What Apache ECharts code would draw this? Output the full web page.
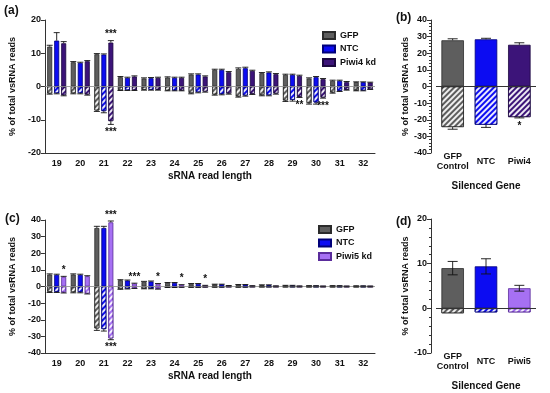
<!DOCTYPE html>
<html><head><meta charset="utf-8">
<script src="https://cdn.jsdelivr.net/npm/echarts@6/dist/echarts.min.js"></script>
<style>html,body{margin:0;padding:0;background:#fff}#c{width:550px;height:393px}</style>
</head><body><div id="c"></div>
<script>
// ---------- DATA ----------
const lengths = ['19','20','21','22','23','24','25','26','27','28','29','30','31','32'];
// panel (a)
const aGfpPos   = [12.0, 7.3, 9.7, 2.8, 2.4, 2.7, 3.6, 5.0, 5.3, 4.0, 3.5, 2.4, 1.7, 1.3];
const aNtcPos   = [13.8, 7.1, 9.6, 2.6, 2.5, 2.6, 3.6, 5.0, 5.5, 4.2, 3.5, 2.8, 1.7, 1.3];
const aPiwi4Pos = [13.0, 7.6, 13.2, 3.0, 2.6, 2.6, 3.0, 4.3, 4.7, 3.7, 3.2, 2.2, 1.3, 1.2];
const aGfpNeg   = [-2.1, -2.0, -7.2, -1.1, -1.0, -1.2, -2.0, -2.4, -3.0, -2.6, -4.2, -5.0, -1.8, -1.2];
const aNtcNeg   = [-2.0, -2.0, -7.4, -1.1, -1.0, -1.2, -1.7, -2.3, -2.7, -2.6, -4.0, -4.8, -1.3, -1.2];
const aPiwi4Neg = [-2.6, -2.4, -10.4, -1.1, -1.0, -1.2, -1.5, -2.1, -2.2, -2.1, -3.1, -3.3, -1.0, -0.8];
const aGfpPosErr   = [0.4, 0.2, 0.2, 0.2, 0.2, 0.2, 0.2, 0.2, 0.3, 0.2, 0.2, 0.2, 0.2, 0.1];
const aNtcPosErr   = [2.4, 0.2, 0.2, 0.2, 0.2, 0.2, 0.2, 0.2, 0.3, 0.2, 0.2, 0.2, 0.2, 0.1];
const aPiwi4PosErr = [0.5, 0.2, 0.6, 0.2, 0.2, 0.2, 0.2, 0.2, 0.2, 0.2, 0.2, 0.2, 0.2, 0.1];
const aGfpNegErr   = [0.2, 0.2, 0.3, 0.1, 0.1, 0.1, 0.2, 0.2, 0.2, 0.2, 0.3, 0.3, 0.2, 0.1];
const aNtcNegErr   = [0.2, 0.2, 0.5, 0.1, 0.1, 0.1, 0.2, 0.2, 0.2, 0.2, 0.4, 0.5, 0.2, 0.1];
const aPiwi4NegErr = [0.2, 0.2, 1.0, 0.1, 0.1, 0.1, 0.2, 0.2, 0.2, 0.2, 0.2, 0.2, 0.1, 0.1];
const aPiwi4PosStars = ['', '', '***', '', '', '', '', '', '', '', '', '', '', ''];
const aPiwi4NegStars = ['', '', '***', '', '', '', '', '', '', '', '**', '***', '', ''];
// panel (c)
const cGfpPos   = [7.2, 7.2, 35.2, 3.8, 2.8, 2.2, 1.6, 1.3, 1.1, 0.9, 0.6, 0.4, 0.4, 0.3];
const cNtcPos   = [7.0, 7.0, 35.2, 3.6, 3.0, 2.2, 1.6, 1.3, 1.1, 0.9, 0.6, 0.4, 0.4, 0.3];
const cPiwi5Pos = [5.8, 6.2, 38.6, 1.8, 1.6, 1.0, 0.6, 0.5, 0.4, 0.3, 0.25, 0.2, 0.2, 0.2];
const cGfpNeg   = [-3.2, -3.4, -25.2, -1.5, -1.2, -0.5, -0.4, -0.3, -0.3, -0.2, -0.2, -0.2, -0.2, -0.2];
const cNtcNeg   = [-3.2, -3.4, -25.6, -1.3, -1.2, -0.5, -0.4, -0.3, -0.3, -0.2, -0.2, -0.2, -0.2, -0.2];
const cPiwi5Neg = [-3.6, -4.2, -31.2, -1.0, -1.4, -0.4, -0.3, -0.2, -0.2, -0.2, -0.2, -0.2, -0.2, -0.2];
const cGfpPosErr   = [0.4, 0.4, 1.0, 0.3, 0.3, 0.2, 0.2, 0.1, 0.1, 0.1, 0.1, 0.1, 0.1, 0.1];
const cNtcPosErr   = [0.4, 0.4, 1.0, 0.3, 0.3, 0.2, 0.2, 0.1, 0.1, 0.1, 0.1, 0.1, 0.1, 0.1];
const cPiwi5PosErr = [0.3, 0.3, 0.8, 0.2, 0.2, 0.1, 0.1, 0.1, 0.1, 0.1, 0.1, 0.1, 0.1, 0.1];
const cGfpNegErr   = [0.4, 0.4, 1.2, 0.2, 0.2, 0.1, 0.1, 0.1, 0.1, 0.1, 0.1, 0.1, 0.1, 0.1];
const cNtcNegErr   = [0.4, 0.4, 1.2, 0.2, 0.2, 0.1, 0.1, 0.1, 0.1, 0.1, 0.1, 0.1, 0.1, 0.1];
const cPiwi5NegErr = [0.3, 0.3, 0.8, 0.2, 0.2, 0.1, 0.1, 0.1, 0.1, 0.1, 0.1, 0.1, 0.1, 0.1];
const cPiwi5PosStars = ['*', '', '***', '***', '*', '*', '*', '', '', '', '', '', '', ''];
const cPiwi5NegStars = ['', '', '***', '', '', '', '', '', '', '', '', '', '', ''];
// panel (b)
const bGenes  = ['GFP\nControl', 'NTC', 'Piwi4'];
const bPos    = [27.8, 28.4, 25.1];
const bPosErr = [0.9, 0.6, 1.2];
const bNeg    = [-24.4, -23.0, -18.4];
const bNegErr = [1.3, 1.6, 0.5];
const bNegStars = ['', '', '*'];
// panel (d)
const dGenes  = ['GFP\nControl', 'NTC', 'Piwi5'];
const dPos    = [9.0, 9.4, 4.5];
const dPosErr = [1.5, 1.7, 0.65];
const dNeg    = [-1.1, -0.9, -0.9];

// ---------- STYLE ----------
const FONT = 'Arial, "Liberation Sans", sans-serif';
const C = {
  gfp:   {fill: '#5e5e5e', border: '#2b2b2b'},
  ntc:   {fill: '#0c0cf2', border: '#00007a'},
  piwi4: {fill: '#3c1479', border: '#1c0840'},
  piwi5: {fill: '#a670f3', border: '#5a2c9c'}
};
const decal = {symbol: 'rect', symbolSize: 1, color: 'rgba(255,255,255,0.9)',
  dashArrayX: [1, 0], dashArrayY: [1.3, 1.7], rotation: -Math.PI / 4};

const BW = 5, GAP = 2;
const BW2 = 22.5;

function errSeries(ax, vals, errs, stars, idx, nG, bw, gap, both) {
  return {
    type: 'custom', xAxisIndex: ax, yAxisIndex: ax, z: 10, silent: true, clip: false,
    data: vals.map((v, i) => [i, v, errs[i]]),
    renderItem(params, api) {
      const i = api.value(0), v = api.value(1), e = api.value(2);
      const s = v >= 0 ? 1 : -1;
      const base = api.coord([i, v]);
      const x = base[0] + (idx - (nG - 1) / 2) * (bw + gap);
      const yTip = api.coord([i, v + s * e])[1];
      const cap = Math.min(bw / 2 + 0.5, 5);
      const ls = {stroke: '#111', lineWidth: 0.9};
      const ch = [];
      if (e > 0) {
        const yFrom = both ? api.coord([i, v - s * e])[1] : base[1];
        ch.push({type: 'line', shape: {x1: x, y1: yFrom, x2: x, y2: yTip}, style: ls});
        ch.push({type: 'line', shape: {x1: x - cap, y1: yTip, x2: x + cap, y2: yTip}, style: ls});
        if (both) ch.push({type: 'line', shape: {x1: x - cap, y1: yFrom, x2: x + cap, y2: yFrom}, style: ls});
      }
      const st = stars ? stars[params.dataIndex] : '';
      if (st) {
        ch.push({type: 'text', style: {text: st, x: x, y: s > 0 ? yTip - 1 : yTip + 3,
          align: 'center', verticalAlign: s > 0 ? 'bottom' : 'top',
          font: 'bold 10px ' + FONT, fill: '#111'}});
      }
      return {type: 'group', children: ch};
    }
  };
}

function barPair(ax, name, col, pos, neg, stack, bw, gapPct) {
  return [
    {type: 'bar', name: name, xAxisIndex: ax, yAxisIndex: ax, stack: stack, barWidth: bw, barGap: gapPct,
     data: pos, itemStyle: {color: col.fill, borderColor: col.border, borderWidth: 0.8}},
    {type: 'bar', name: name + ' (neg)', xAxisIndex: ax, yAxisIndex: ax, stack: stack, barWidth: bw, barGap: gapPct,
     data: neg, itemStyle: {color: col.fill, borderColor: col.border, borderWidth: 0.8, decal: decal}}
  ];
}

function zeroLine(ax, color, width) {
  return {type: 'line', xAxisIndex: ax, yAxisIndex: ax, data: [], silent: true,
    markLine: {silent: true, symbol: 'none', label: {show: false},
      lineStyle: {color: color, width: width, type: 'solid'}, data: [{yAxis: 0}]}};
}

const axisTxt = {color: '#111', fontFamily: FONT, fontWeight: 'bold', fontSize: 9};
const nameTxt = {color: '#111', fontFamily: FONT, fontWeight: 'bold', fontSize: 10};
const lineS = {color: '#333', width: 1};

function xCat(gi, data, name, gap) {
  return {type: 'category', gridIndex: gi, data: data,
    axisLine: {onZero: false, lineStyle: lineS},
    axisTick: {alignWithLabel: true, length: 4, lineStyle: lineS},
    axisLabel: Object.assign({margin: 6, interval: 0}, axisTxt),
    name: name, nameLocation: 'middle', nameGap: gap, nameTextStyle: nameTxt};
}
function xCat2(gi, data, name, gap) {
  return {type: 'category', gridIndex: gi, data: data,
    axisLine: {show: false}, axisTick: {show: false},
    axisLabel: Object.assign({margin: 9, interval: 0, hideOverlap: false, verticalAlign: 'middle', lineHeight: 10}, axisTxt),
    name: name, nameLocation: 'middle', nameGap: gap, nameTextStyle: nameTxt};
}
function yVal(gi, min, max, gap, offset, minor) {
  return {type: 'value', gridIndex: gi, min: min, max: max, interval: 10, offset: offset || 0,
    axisLine: {show: true, lineStyle: lineS},
    axisTick: {show: true, length: 4, lineStyle: lineS},
    minorTick: {show: !!minor, splitNumber: 5, length: 2, lineStyle: lineS},
    splitLine: {show: false},
    axisLabel: Object.assign({margin: 4}, axisTxt),
    name: '% of total vsRNA reads', nameLocation: 'middle', nameGap: gap,
    nameTextStyle: {color: '#111', fontFamily: FONT, fontWeight: 'bold', fontSize: 9}};
}

const series = [];
// (a) axis 0
series.push(zeroLine(0, '#8a8a8a', 0.8));
series.push(...barPair(0, 'GFP', C.gfp, aGfpPos, aGfpNeg, 'ag', BW, '40%'));
series.push(...barPair(0, 'NTC', C.ntc, aNtcPos, aNtcNeg, 'an', BW, '40%'));
series.push(...barPair(0, 'Piwi4 kd', C.piwi4, aPiwi4Pos, aPiwi4Neg, 'ap', BW, '40%'));
series.push(errSeries(0, aGfpPos, aGfpPosErr, null, 0, 3, BW, GAP));
series.push(errSeries(0, aNtcPos, aNtcPosErr, null, 1, 3, BW, GAP));
series.push(errSeries(0, aPiwi4Pos, aPiwi4PosErr, aPiwi4PosStars, 2, 3, BW, GAP));
series.push(errSeries(0, aGfpNeg, aGfpNegErr, null, 0, 3, BW, GAP));
series.push(errSeries(0, aNtcNeg, aNtcNegErr, null, 1, 3, BW, GAP));
series.push(errSeries(0, aPiwi4Neg, aPiwi4NegErr, aPiwi4NegStars, 2, 3, BW, GAP));
// (c) axis 1
series.push(zeroLine(1, '#8a8a8a', 0.8));
series.push(...barPair(1, 'GFP', C.gfp, cGfpPos, cGfpNeg, 'cg', BW, '40%'));
series.push(...barPair(1, 'NTC', C.ntc, cNtcPos, cNtcNeg, 'cn', BW, '40%'));
series.push(...barPair(1, 'Piwi5 kd', C.piwi5, cPiwi5Pos, cPiwi5Neg, 'cp', BW, '40%'));
series.push(errSeries(1, cGfpPos, cGfpPosErr, null, 0, 3, BW, GAP));
series.push(errSeries(1, cNtcPos, cNtcPosErr, null, 1, 3, BW, GAP));
series.push(errSeries(1, cPiwi5Pos, cPiwi5PosErr, cPiwi5PosStars, 2, 3, BW, GAP));
series.push(errSeries(1, cGfpNeg, cGfpNegErr, null, 0, 3, BW, GAP));
series.push(errSeries(1, cNtcNeg, cNtcNegErr, null, 1, 3, BW, GAP));
series.push(errSeries(1, cPiwi5Neg, cPiwi5NegErr, cPiwi5NegStars, 2, 3, BW, GAP));
// (b) axis 2
const bCols = [C.gfp, C.ntc, C.piwi4];
const dCols = [C.gfp, C.ntc, C.piwi5];
function coloured(vals, cols, hatched) {
  return vals.map((v, i) => ({value: v, itemStyle: Object.assign(
    {color: cols[i].fill, borderColor: cols[i].border, borderWidth: 0.8}, hatched ? {decal: decal} : {})}));
}
series.push({type: 'bar', name: 'b+', xAxisIndex: 2, yAxisIndex: 2, stack: 'b', barWidth: BW2, data: coloured(bPos, bCols, false)});
series.push({type: 'bar', name: 'b-', xAxisIndex: 2, yAxisIndex: 2, stack: 'b', barWidth: BW2, data: coloured(bNeg, bCols, true)});
series.push(zeroLine(2, '#333', 1));
series.push(errSeries(2, bPos, bPosErr, null, 0, 1, BW2, 0));
series.push(errSeries(2, bNeg, bNegErr, bNegStars, 0, 1, BW2, 0));
// (d) axis 3
series.push({type: 'bar', name: 'd+', xAxisIndex: 3, yAxisIndex: 3, stack: 'd', barWidth: BW2, data: coloured(dPos, dCols, false)});
series.push({type: 'bar', name: 'd-', xAxisIndex: 3, yAxisIndex: 3, stack: 'd', barWidth: BW2, data: coloured(dNeg, dCols, true)});
series.push(zeroLine(3, '#333', 1));
series.push(errSeries(3, dPos, dPosErr, null, 0, 1, BW2, 0, true));

const legendBase = {orient: 'vertical', icon: 'rect', itemWidth: 12, itemHeight: 7, itemGap: 4.5, padding: 0,
  selectedMode: false, textStyle: {color: '#111', fontFamily: FONT, fontWeight: 'bold', fontSize: 9}};

const option = {
  animation: false,
  backgroundColor: '#fff',
  grid: [
    {left: 39, top: 20, width: 336, height: 133},
    {left: 39, top: 220, width: 336, height: 133},
    {left: 436, top: 20, width: 100, height: 133},
    {left: 436, top: 219, width: 100, height: 134}
  ],
  xAxis: [
    xCat(0, lengths, 'sRNA read length', 18),
    xCat(1, lengths, 'sRNA read length', 18),
    xCat2(2, bGenes, 'Silenced Gene', 28),
    xCat2(3, dGenes, 'Silenced Gene', 28)
  ],
  yAxis: [
    yVal(0, -20, 20, 22),
    yVal(1, -40, 40, 22),
    yVal(2, -40, 40, 15, 5, true),
    yVal(3, -10, 20, 15, 5, true)
  ],
  legend: [
    Object.assign({left: 322, top: 31, data: ['GFP', 'NTC', 'Piwi4 kd']}, legendBase),
    Object.assign({left: 318, top: 225, data: ['GFP', 'NTC', 'Piwi5 kd']}, legendBase)
  ],
  graphic: [
    {type: 'text', left: 4, top: 5, style: {text: '(a)', font: 'bold 12px ' + FONT, fill: '#111'}},
    {type: 'text', left: 396, top: 12, style: {text: '(b)', font: 'bold 12px ' + FONT, fill: '#111'}},
    {type: 'text', left: 5, top: 213, style: {text: '(c)', font: 'bold 12px ' + FONT, fill: '#111'}},
    {type: 'text', left: 396, top: 216, style: {text: '(d)', font: 'bold 12px ' + FONT, fill: '#111'}}
  ],
  series: series
};
const chart = echarts.init(document.getElementById('c'), null, {renderer: 'canvas'});
chart.setOption(option);
</script></body></html>
